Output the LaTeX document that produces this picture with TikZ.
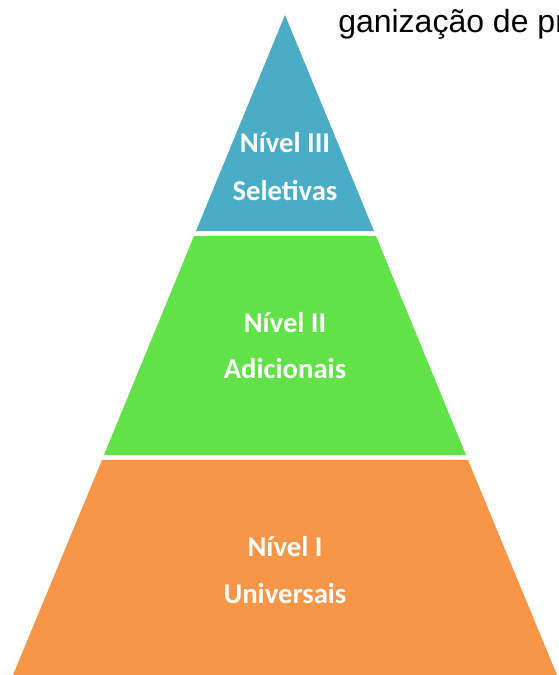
\documentclass[tikz,border=0pt]{standalone}
\usepackage{fontspec}
\setmainfont{Carlito}
\newfontfamily\arialfont{Liberation Sans}
\definecolor{topblue}{HTML}{4BACC6}
\definecolor{midgreen}{HTML}{60E248}
\definecolor{baseorange}{HTML}{F79646}

\begin{document}
\begin{tikzpicture}[x=0.75pt, y=-0.75pt,
		band/.style={draw=none},
		lbl/.style={text=white, font=\fontsize{21.5}{24}\selectfont\bfseries, align=center}]
			\useasboundingbox (0,0) rectangle (558,675);
			\clip (0,0) rectangle (558,675);

			% pyramid levels
			\fill[band, topblue] (285,15) -- (374,231) -- (196,231) -- cycle;
			\fill[band, midgreen] (194,236) -- (376,236) -- (466,455) -- (104,455) -- cycle;
			\fill[band, baseorange] (102,460) -- (468,460) -- (557,675) -- (13,675) -- cycle;

			\node[lbl] (nivel3) at (285,143) {Nível III};
			\node[lbl] (sel) at (285,191) {Seletivas};
			\node[lbl] (nivel2) at (285,323) {Nível II};
			\node[lbl] (adic) at (285,369) {Adicionais};
			\node[lbl] (nivel1) at (285,547) {Nível I};
			\node[lbl] (univ) at (285,594) {Universais};

			% cut-off heading
			\node[anchor=base west, inner sep=0pt, font=\arialfont\fontsize{24}{28}\selectfont] (title) at (338,32) {ganização de pr};
		\end{tikzpicture}
\end{document}
